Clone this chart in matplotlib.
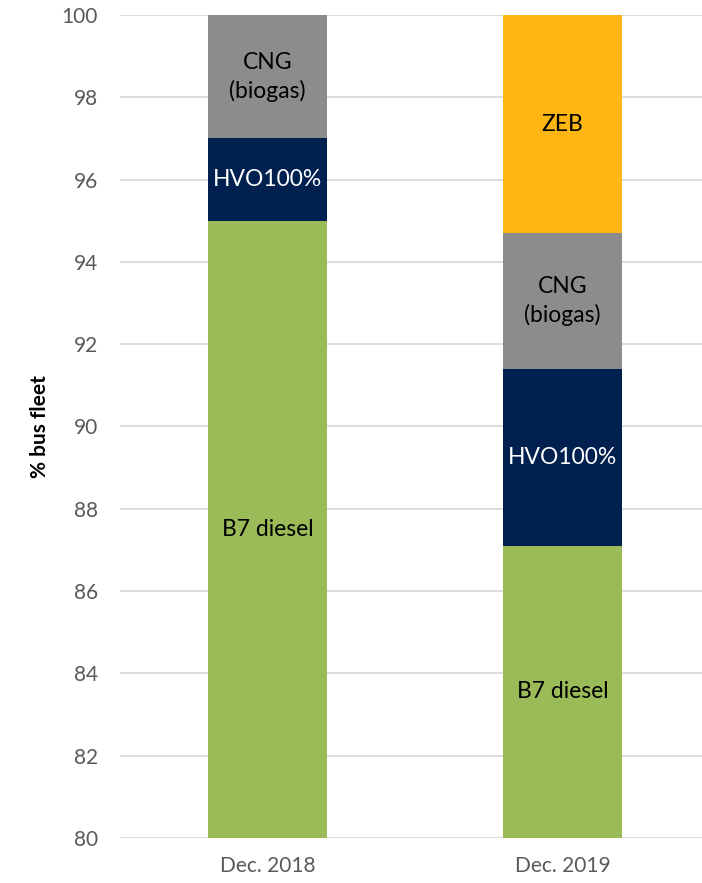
import numpy as np
import matplotlib.pyplot as plt

plt.rcParams["font.family"] = ["Lato", "DejaVu Sans"]

# Data
periods = ["Dec. 2018", "Dec. 2019"]
fuels = ["B7 diesel", "HVO100%", "CNG\n(biogas)", "ZEB"]
b7_diesel = [95.0, 87.1]
hvo100 = [2.0, 4.3]
cng_biogas = [3.0, 3.3]
zeb = [0.0, 5.3]

COLORS = ["#9BBB59", "#002050", "#8C8C8C", "#FFB612"]
TEXT_COLORS = ["black", "white", "black", "black"]

fig = plt.figure(figsize=(7.02, 8.83), dpi=100)
ax = fig.add_axes([120 / 702, 45 / 883, 590 / 702, 823 / 883])

x = np.arange(len(periods))
width = 0.403
bottom = np.zeros(len(periods))
series = [b7_diesel, hvo100, cng_biogas, zeb]
for name, vals, col, tcol in zip(fuels, series, COLORS, TEXT_COLORS):
    vals = np.array(vals)
    ax.bar(x, vals, width, bottom=bottom, color=col, zorder=3)
    for i, v in enumerate(vals):
        if v <= 0:
            continue
        top = bottom[i] + v
        lo = max(bottom[i], 80)
        ax.text(x[i], (lo + top) / 2, name, ha="center", va="center",
                color=tcol, fontsize=16.5, zorder=4, linespacing=1.4)
    bottom = bottom + vals

ax.set_ylim(80, 100)
ax.set_xlim(-0.5, 1.5)
ax.set_yticks(np.arange(80, 101, 2))
ax.set_xticks(x)
ax.set_xticklabels(periods)
ax.tick_params(axis="both", length=0, labelsize=15, colors="#595959")
ax.tick_params(axis="y", pad=16)
ax.tick_params(axis="x", pad=13)
ax.grid(axis="y", color="#D9D9D9", linewidth=1.3, zorder=0)
for s in ax.spines.values():
    s.set_visible(False)
ax.set_ylabel("% bus fleet", fontsize=15, fontweight="bold", labelpad=8)

fig.savefig("out.png", dpi=100)
